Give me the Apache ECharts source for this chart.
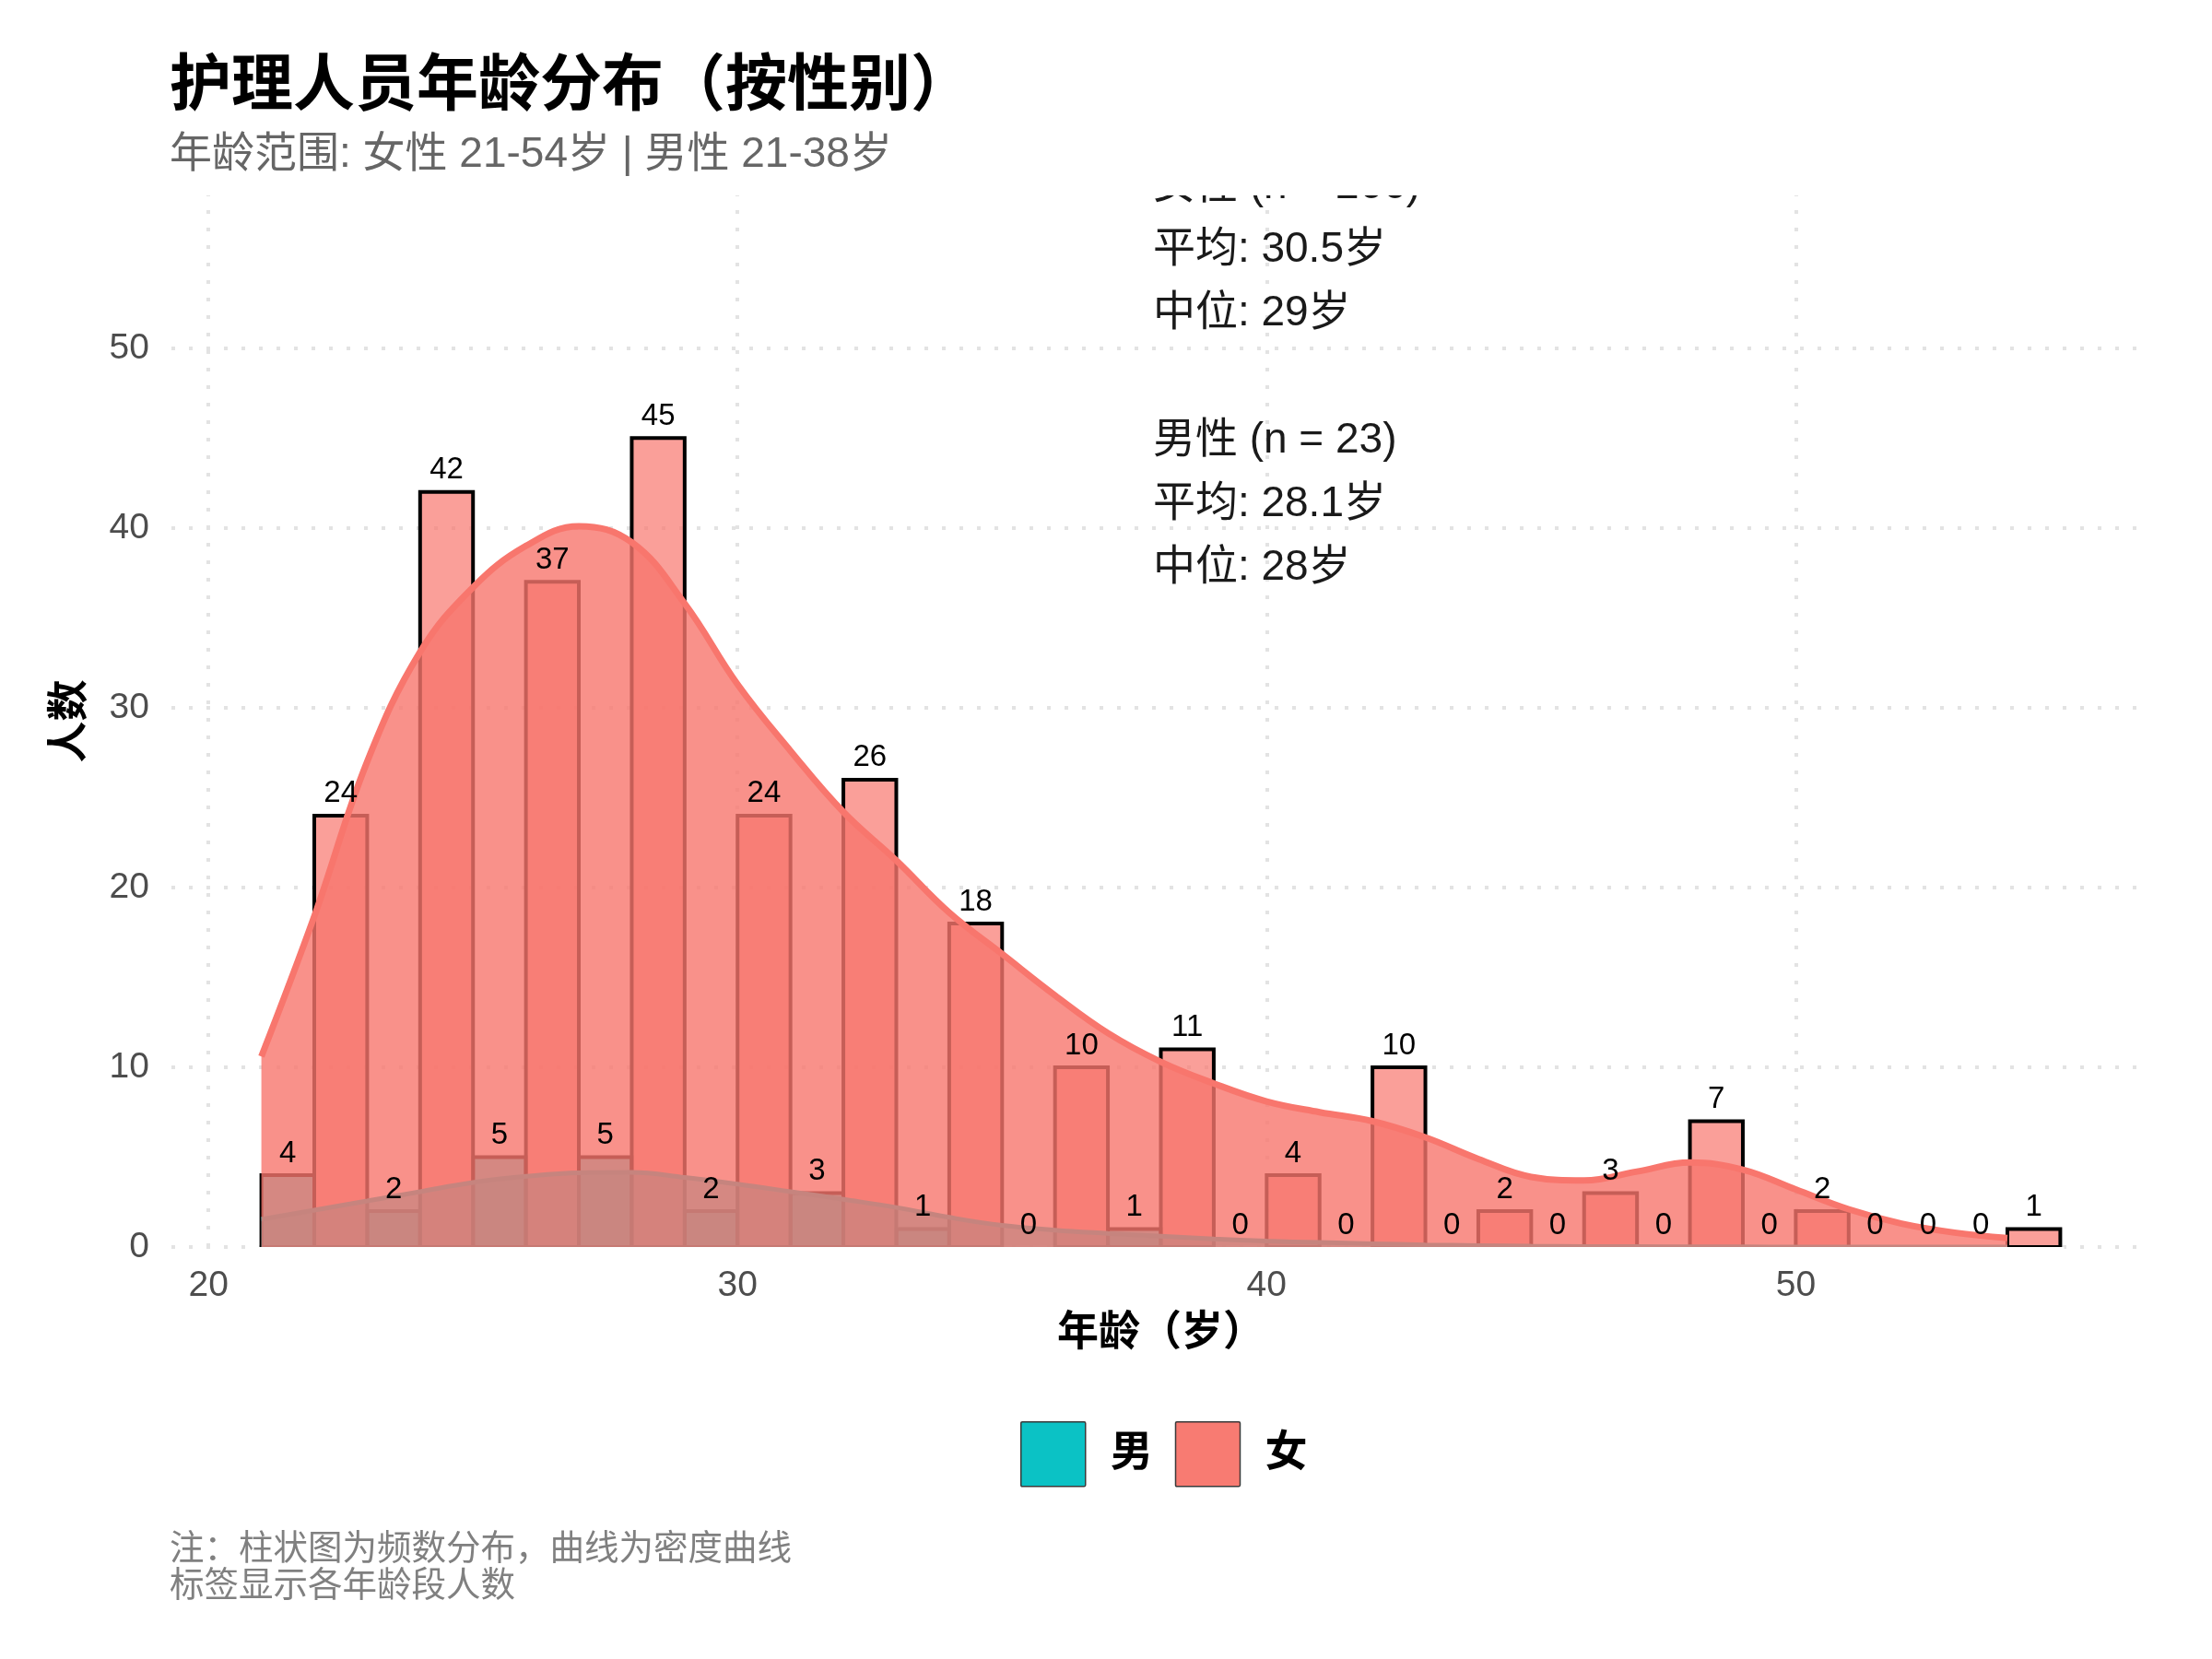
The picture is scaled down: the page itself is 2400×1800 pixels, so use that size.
<!DOCTYPE html>
<html>
<head>
<meta charset="utf-8">
<title>护理人员年龄分布</title>
<script src="https://cdn.jsdelivr.net/npm/echarts@6/dist/echarts.min.js"></script>
<style>
  html, body { margin: 0; padding: 0; background: #fff; }
  #main { width: 2400px; height: 1800px; }
</style>
</head>
<body>
<div id="main"></div>
<script>
var FONT = '"Liberation Sans", "Noto Sans CJK SC", sans-serif';

// 每个年龄组宽 1 岁，以下为组的起点
var ages = [21, 22, 23, 24, 25, 26, 27, 28, 29, 30, 31, 32, 33, 34, 35, 36, 37,
            38, 39, 40, 41, 42, 43, 44, 45, 46, 47, 48, 49, 50, 51, 52, 53, 54];
var femaleCounts = [0, 24, 0, 42, 0, 37, 0, 45, 0, 24, 0, 26, 0, 18, 0, 10, 0,
                    11, 0, 4, 0, 10, 0, 2, 0, 3, 0, 7, 0, 2, 0, 0, 0, 1];
var maleCounts = [4, 0, 2, 0, 5, 0, 5, 0, 2, 0, 3, 0, 1, 0, 0, 0, 1,
                  0, 0, 0, 0, 0, 0, 0, 0, 0, 0, 0, 0, 0, 0, 0, 0, 0];

// 密度曲线（按人数缩放），在各整数年龄处读取
var femaleDensity = [10.6, 18.4, 27.0, 33.1, 36.7, 39.0, 40.1, 39.2, 35.8, 31.3,
                     27.6, 24.2, 21.5, 18.6, 16.3, 14.0, 11.9, 10.3, 9.1, 8.1,
                     7.5, 7.0, 6.1, 4.9, 3.9, 3.7, 4.2, 4.7, 4.3, 3.2,
                     2.1, 1.3, 0.8, 0.5];
var maleDensity = [1.54, 2.05, 2.56, 3.08, 3.59, 3.93, 4.13, 4.15, 3.87, 3.5,
                   3.08, 2.65, 2.2, 1.65, 1.2, 0.94, 0.76, 0.6, 0.45, 0.33,
                   0.25, 0.18, 0.12, 0.08, 0.05, 0.03, 0.02, 0.01, 0.01, 0,
                   0, 0, 0, 0];

var xTicks = [20, 30, 40, 50];
var yTicks = [0, 10, 20, 30, 40, 50];

var noteLines = ['女性 (n = 266)', '平均: 30.5岁', '中位: 29岁', '',
                 '男性 (n = 23)', '平均: 28.1岁', '中位: 28岁'];

// 标签：奇数年龄组显示男性人数，偶数组显示女性人数
var labelData = ages.map(function (a, i) {
    return [a + 0.5, a % 2 === 1 ? maleCounts[i] : femaleCounts[i]];
});

function zip(xs, ys) {
    return xs.map(function (x, i) { return [x, ys[i]]; });
}

function barRenderer(fill) {
    return function (params, api) {
        var x0 = api.value(0), c = api.value(1);
        if (!c) return null;
        var p0 = api.coord([x0, c]);
        var p1 = api.coord([x0 + 1, 0]);
        return {
            type: 'rect',
            shape: { x: p0[0], y: p0[1], width: p1[0] - p0[0], height: p1[1] - p0[1] },
            style: { fill: fill, stroke: '#000', lineWidth: 4 }
        };
    };
}

var chart = echarts.init(document.getElementById('main'));

var gridLines = xTicks.map(function (v) { return { xAxis: v }; })
    .concat(yTicks.map(function (v) { return { yAxis: v }; }));

chart.setOption({
    backgroundColor: '#fff',
    animation: false,
    title: [{
        text: '护理人员年龄分布（按性别）',
        left: 184, top: 62, padding: 0,
        textStyle: { fontSize: 67, fontWeight: 'bold', color: '#000', fontFamily: FONT }
    }, {
        text: '年龄范围: 女性 21-54岁 | 男性 21-38岁',
        left: 184, top: 145, padding: 0,
        textStyle: { fontSize: 46, fontWeight: 'normal', color: '#666', fontFamily: FONT }
    }, {
        text: '注：柱状图为频数分布，曲线为密度曲线\n标签显示各年龄段人数',
        left: 184, top: 1662, padding: 0,
        textStyle: { fontSize: 37.5, lineHeight: 40, fontWeight: 'normal', color: '#808080', fontFamily: FONT }
    }],
    legend: {
        left: 1107, top: 1542, padding: 0,
        itemWidth: 70, itemHeight: 70, itemGap: 24,
        icon: 'path://M2,0 L98,0 Q100,0 100,2 L100,98 Q100,100 98,100 L2,100 Q0,100 0,98 L0,2 Q0,0 2,0 Z',
        selectedMode: false,
        data: [
            { name: '男', itemStyle: { color: '#0BC2C5', borderColor: '#3a3a3a', borderWidth: 1.5 } },
            { name: '女', itemStyle: { color: '#F87B72', borderColor: '#3a3a3a', borderWidth: 1.5 } }
        ],
        textStyle: { fontSize: 46, fontWeight: 'bold', color: '#000', fontFamily: FONT, padding: [0, 0, 0, 22] }
    },
    grid: { left: 186, right: 67, top: 212, bottom: 447 },
    xAxis: {
        type: 'value', min: 19.3, max: 56.7,
        name: '年龄（岁）', nameLocation: 'middle', nameGap: 72,
        nameTextStyle: { fontSize: 45, fontWeight: 'bold', color: '#000', fontFamily: FONT },
        axisLine: { show: false }, axisTick: { show: false }, splitLine: { show: false },
        axisLabel: { customValues: xTicks, fontSize: 39, color: '#4D4D4D', margin: 23, fontFamily: FONT }
    },
    yAxis: {
        type: 'value', min: 0, max: 58.5,
        name: '人数', nameLocation: 'middle', nameGap: 86, nameRotate: 90,
        nameTextStyle: { fontSize: 45, fontWeight: 'bold', color: '#000', fontFamily: FONT },
        axisLine: { show: false }, axisTick: { show: false }, splitLine: { show: false },
        axisLabel: { customValues: yTicks, fontSize: 39, color: '#4D4D4D', margin: 24, fontFamily: FONT }
    },
    series: [{
        // 网格线
        type: 'line', name: 'grid', data: [], z: 0, silent: true,
        markLine: {
            z: 0, silent: true, symbol: ['none', 'none'], label: { show: false },
            lineStyle: { color: '#E3E3E3', width: 4, type: [4, 15] },
            data: gridLines
        }
    }, {
        type: 'custom', name: '男', z: 1, clip: true,
        itemStyle: { color: '#00BFC4' },
        data: zip(ages, maleCounts),
        renderItem: barRenderer('rgba(0,191,196,0.7)')
    }, {
        type: 'custom', name: '女', z: 2, clip: true,
        itemStyle: { color: '#F8766D' },
        data: zip(ages, femaleCounts),
        renderItem: barRenderer('rgba(248,118,109,0.7)')
    }, {
        type: 'line', name: '男密度', z: 3, smooth: 0.4, showSymbol: false, silent: true,
        data: zip(ages, maleDensity),
        lineStyle: { color: '#00BFC4', width: 5 },
        areaStyle: { color: '#00BFC4', opacity: 0.7 }
    }, {
        type: 'line', name: '女密度', z: 4, smooth: 0.4, showSymbol: false, silent: true,
        data: zip(ages, femaleDensity),
        lineStyle: { color: '#F8766D', width: 7 },
        areaStyle: { color: '#F8766D', opacity: 0.8 }
    }, {
        type: 'custom', name: 'labels', z: 10, silent: true,
        data: labelData,
        renderItem: function (params, api) {
            var p = api.coord([api.value(0), api.value(1)]);
            return {
                type: 'text', x: p[0], y: p[1] - 7,
                style: {
                    text: String(api.value(1)), fill: '#000',
                    fontSize: 33, fontFamily: FONT,
                    align: 'center', verticalAlign: 'bottom'
                }
            };
        }
    }, {
        type: 'custom', name: 'note', z: 12, silent: true, clip: true,
        data: [[37.85, 48.4]],
        renderItem: function (params, api) {
            var p = api.coord([api.value(0), api.value(1)]);
            return {
                type: 'text', x: p[0], y: p[1],
                style: {
                    text: noteLines.join('\n'), fill: '#1A1A1A',
                    fontSize: 46, lineHeight: 69, fontFamily: FONT,
                    align: 'left', verticalAlign: 'middle'
                }
            };
        }
    }]
});

// 面板在 y=0 处裁切：遮住密度曲线描边落在基线以下的部分
var b0 = chart.convertToPixel({ gridIndex: 0 }, [ages[0], 0]);
var b1 = chart.convertToPixel({ gridIndex: 0 }, [ages[ages.length - 1] + 1, 0]);
chart.setOption({
    graphic: [{
        type: 'rect', z: 9, silent: true,
        shape: { x: b0[0] - 4, y: b0[1], width: b1[0] - b0[0] + 8, height: 8 },
        style: { fill: '#fff' }
    }]
});
</script>
</body>
</html>
